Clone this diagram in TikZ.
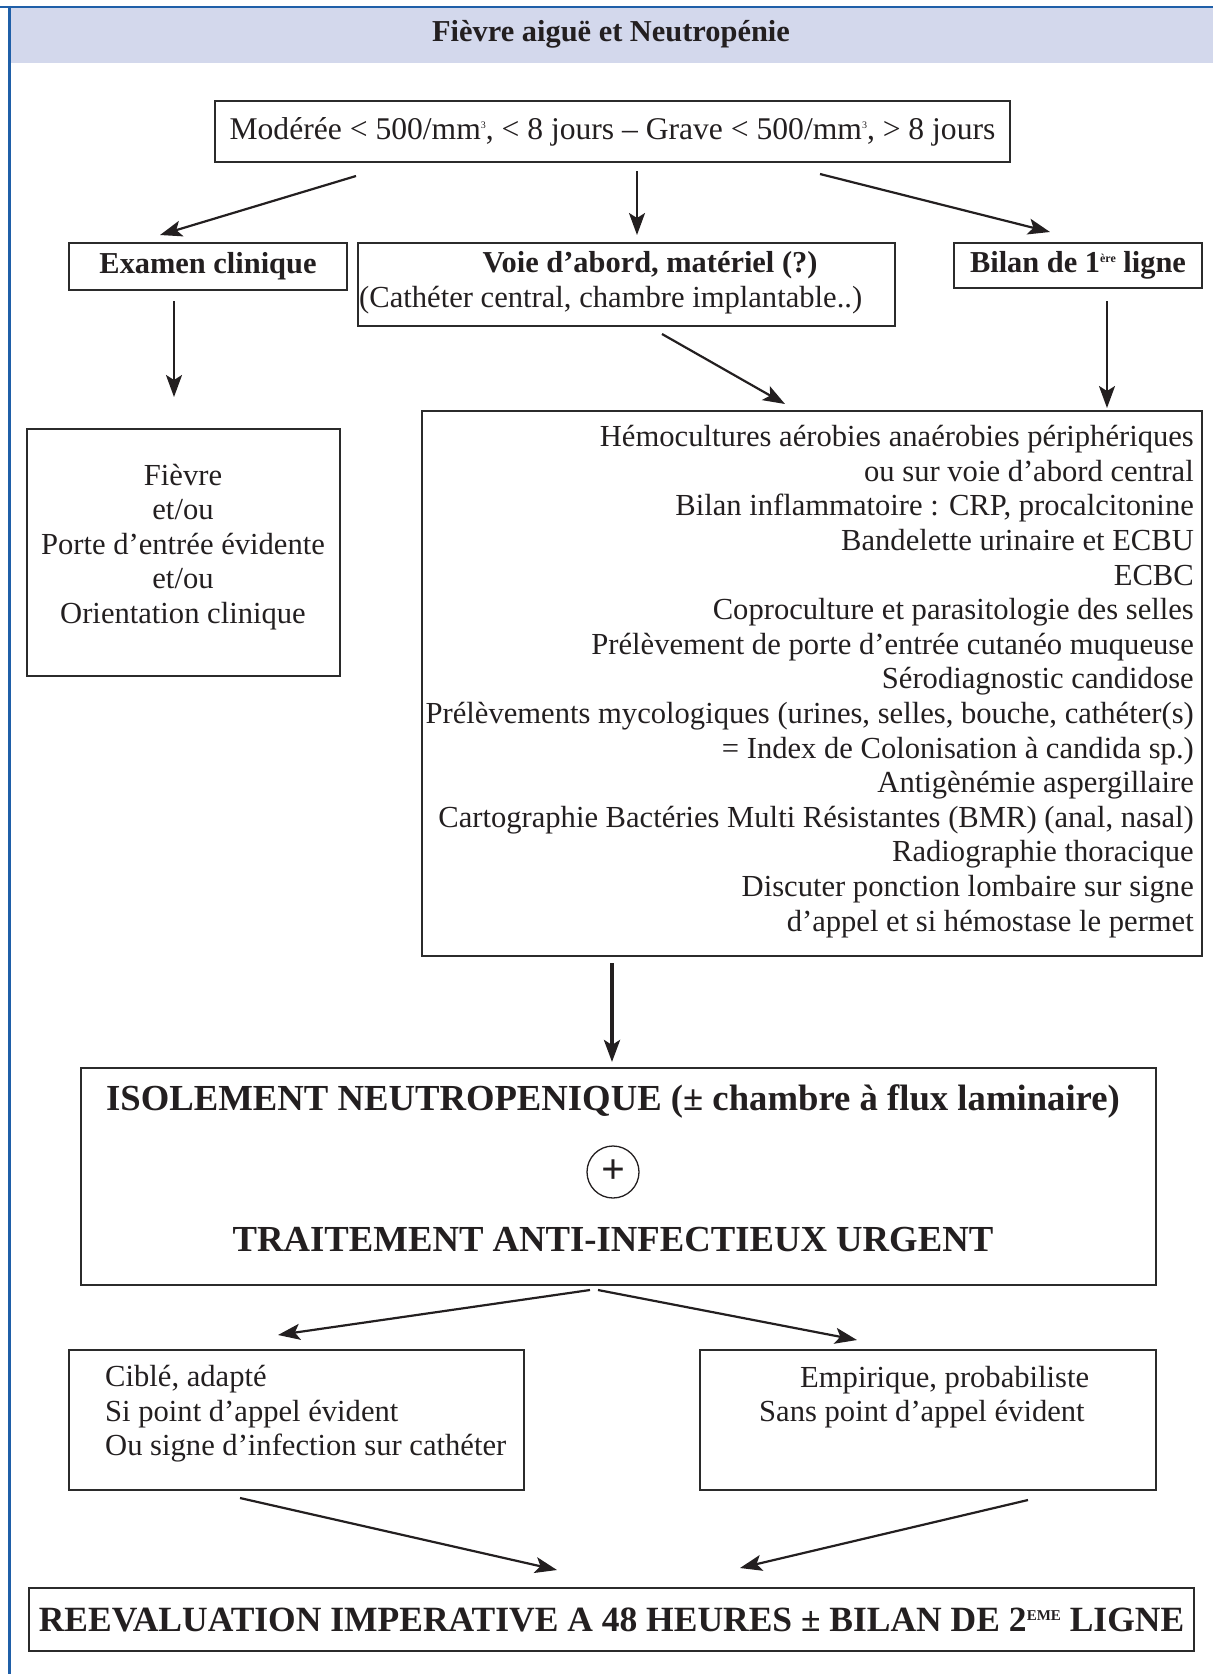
\documentclass[tikz,border=0pt]{standalone}
\usepackage{fontspec}
\setmainfont{Liberation Serif}
\usetikzlibrary{arrows.meta}
\definecolor{bandblue}{HTML}{1F5FA8}
\definecolor{bandfill}{HTML}{D3D8EC}
\definecolor{ink}{HTML}{231F20}
\definecolor{boxline}{HTML}{2B2B2B}
\newcommand\mysup[3]{\raisebox{#2}{\fontsize{#1}{#1}\selectfont #3}}
\tikzset{
  boxed/.style={draw=boxline, line width=1.8pt, inner sep=0pt, rectangle},
  arr/.style={draw=ink, line width=2.2pt, -{Stealth[length=22pt,width=16pt,inset=5pt]}},
  txt/.style={font=\fontsize{30.6}{34.6}\selectfont, inner sep=0pt, text=ink},
  btxt/.style={font=\fontsize{30.4}{34.6}\selectfont\bfseries, inner sep=0pt, text=ink},
  bigtxt/.style={font=\fontsize{36.7}{40}\selectfont\bfseries, inner sep=0pt, text=ink},
}
\begin{document}
\begin{tikzpicture}[x=1pt,y=-1pt]
\useasboundingbox (0,0) rectangle (1213,1674);
% header band
\fill[bandfill] (10,8) rectangle (1213,63);
\draw[bandblue, line width=2.5pt] (0,7) -- (1213,7);
\draw[bandblue, line width=3pt] (9.5,5.75) -- (9.5,1674);
\node[btxt] (title) at (611,34) {Fièvre aiguë et Neutropénie};

% top box
\node[boxed, line width=2.6pt, minimum width=795pt, minimum height=61pt, txt,
      font=\fontsize{31.6}{34.6}\selectfont] (top) at (612.5,131.5)
  {Modérée < 500/mm\mysup{10}{11pt}{3}, < 8 jours – Grave < 500/mm\mysup{10}{11pt}{3}, > 8 jours};

% second row
\node[boxed, minimum width=278pt, minimum height=47pt, btxt] (examen) at (208,266.5) {Examen clinique};
\node[boxed, minimum width=537pt, minimum height=83pt] (voie) at (626.5,284.5) {};
\node[btxt] (voie1) at (650,265) {Voie d'abord, matériel (?)};
\node[txt, anchor=west] (voie2) at (359,300) {(Cathéter central, chambre implantable..)};
\node[boxed, minimum width=248pt, minimum height=45pt, btxt] (bilan) at (1078,265.5)
  {Bilan de 1\mysup{12}{10pt}{ère} ligne};

% third row
\node[boxed, minimum width=313pt, minimum height=247pt] (fievre) at (183.5,552.5) {};
\node[txt, align=center] (fievretext) at (183,547) {Fièvre\\et/ou\\Porte d'entrée évidente\\et/ou\\Orientation clinique};

\node[boxed, minimum width=780pt, minimum height=545pt] (bilanbox) at (812,683.5) {};
\node[txt, align=right, anchor=east] (bilantext) at (1194,681.5) {Hémocultures aérobies anaérobies périphériques\\
ou sur voie d'abord central\\
Bilan inflammatoire : CRP, procalcitonine\\
Bandelette urinaire et ECBU\\
ECBC\\
Coproculture et parasitologie des selles\\
Prélèvement de porte d'entrée cutanéo muqueuse\\
Sérodiagnostic candidose\\
Prélèvements mycologiques (urines, selles, bouche, cathéter(s)\\
= Index de Colonisation à candida sp.)\\
Antigènémie aspergillaire\\
Cartographie Bactéries Multi Résistantes (BMR) (anal, nasal)\\
Radiographie thoracique\\
Discuter ponction lombaire sur signe\\
d'appel et si hémostase le permet};

% isolement box
\node[boxed, minimum width=1075pt, minimum height=217pt] (iso) at (618.5,1176.5) {};
\node[bigtxt] (iso1) at (613,1101) {ISOLEMENT NEUTROPENIQUE (± chambre à flux laminaire)};
\node[draw=ink, circle, line width=1.3pt, minimum size=52pt, inner sep=0pt,
      font=\fontsize{42}{42}\selectfont\bfseries, text=ink] (plus) at (613,1172) {+};
\node[bigtxt] (iso2) at (613,1240) {TRAITEMENT ANTI-INFECTIEUX URGENT};

% two treatment boxes
\node[boxed, minimum width=455pt, minimum height=140pt] (cible) at (296.5,1420) {};
\node[txt, align=left, anchor=west] (cibletext) at (105,1414) {Ciblé, adapté\\Si point d'appel évident\\Ou signe d'infection sur cathéter};
\node[boxed, minimum width=456pt, minimum height=140pt] (empir) at (928,1420) {};
\node[txt, anchor=west] (emp1) at (800,1380) {Empirique, probabiliste};
\node[txt, anchor=west] (emp2) at (759,1414) {Sans point d'appel évident};

% bottom box
\node[boxed, minimum width=1165pt, minimum height=63pt,
      font=\fontsize{35.5}{38}\selectfont\bfseries, text=ink] (reev) at (611.5,1619.5)
  {REEVALUATION IMPERATIVE A 48 HEURES ± BILAN DE 2\mysup{15}{11pt}{EME} LIGNE};

% connectors
\draw[arr] ([shift={(-256.5,44.5)}]top.center) -- ([shift={(-48,-31.5)}]examen.center);
\draw[arr] ([shift={(24.5,39.5)}]top.center) -- ([shift={(10.5,-49.5)}]voie.center);
\draw[arr] ([shift={(207.5,42.5)}]top.center) -- ([shift={(-28,-33.5)}]bilan.center);
\draw[arr] ([shift={(-34,34.5)}]examen.center) -- ([shift={(-9.5,-155.5)}]fievre.center);
\draw[arr] ([shift={(35.5,49.5)}]voie.center) -- ([shift={(-27,-279.5)}]bilanbox.center);
\draw[arr] ([shift={(29,35.5)}]bilan.center) -- ([shift={(295,-275.5)}]bilanbox.center);
\draw[arr, line width=3.8pt] ([shift={(-200,279.5)}]bilanbox.center) -- ([shift={(-6.5,-114.5)}]iso.center);
\draw[arr] ([shift={(-28.5,113.5)}]iso.center) -- ([shift={(-18.5,-85)}]cible.center);
\draw[arr] ([shift={(-20.5,113.5)}]iso.center) -- ([shift={(-71,-80)}]empir.center);
\draw[arr] ([shift={(-56.5,78)}]cible.center) -- ([shift={(-54.5,-49.5)}]reev.center);
\draw[arr] ([shift={(100,80)}]empir.center) -- ([shift={(128.5,-51.5)}]reev.center);
\end{tikzpicture}
\end{document}
